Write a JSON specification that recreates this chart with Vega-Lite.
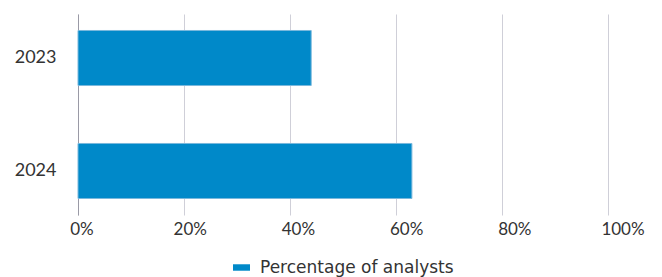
{
  "$schema": "https://vega.github.io/schema/vega-lite/v6.json",
  "width": 530,
  "height": 201,
  "autosize": {"type": "none"},
  "padding": {"left": 78, "top": 14, "right": 54, "bottom": 62},
  "background": "white",
  "data": {
    "values": [
      {"year": "2023", "value": 0.44, "series": "Percentage of analysts"},
      {"year": "2024", "value": 0.63, "series": "Percentage of analysts"}
    ]
  },
  "mark": {"type": "bar", "stroke": "#7ab8dc", "strokeWidth": 1},
  "encoding": {
    "y": {
      "field": "year",
      "type": "ordinal",
      "sort": "ascending",
      "title": null,
      "scale": {"paddingInner": 0.513, "paddingOuter": 0.146},
      "axis": {
        "domain": true,
        "domainColor": "#9a9aa6",
        "domainWidth": 1,
        "ticks": false,
        "labelPadding": 22,
        "labelFontSize": 18,
        "labelFont": "Lato",
        "labelColor": "#333333",
        "grid": false
      }
    },
    "x": {
      "field": "value",
      "type": "quantitative",
      "title": null,
      "scale": {"domain": [0, 1], "nice": false},
      "axis": {
        "values": [0, 0.2, 0.4, 0.6, 0.8, 1],
        "format": ".0%",
        "domain": false,
        "ticks": false,
        "grid": true,
        "gridColor": "#cfcfd8",
        "gridWidth": 1,
        "labelPadding": 6,
        "labelFontSize": 17,
        "labelFont": "Lato",
        "labelColor": "#333333",
        "labelFlush": false,
        "labelOffset": {"expr": "3.5 + datum.value * 11"}
      }
    },
    "color": {
      "field": "series",
      "type": "nominal",
      "scale": {"range": ["#0089c9"]},
      "legend": {
        "title": null,
        "orient": "none",
        "legendX": 155,
        "legendY": 245,
        "symbolType": "M-1,-0.38H1V0.38H-1Z",
        "symbolSize": 289,
        "symbolStrokeWidth": 0,
        "labelFontSize": 17,
        "labelFont": "DejaVu Sans",
        "labelColor": "#333333",
        "labelOffset": 10,
        "labelLimit": 0
      }
    }
  },
  "config": {"view": {"stroke": null}}
}
